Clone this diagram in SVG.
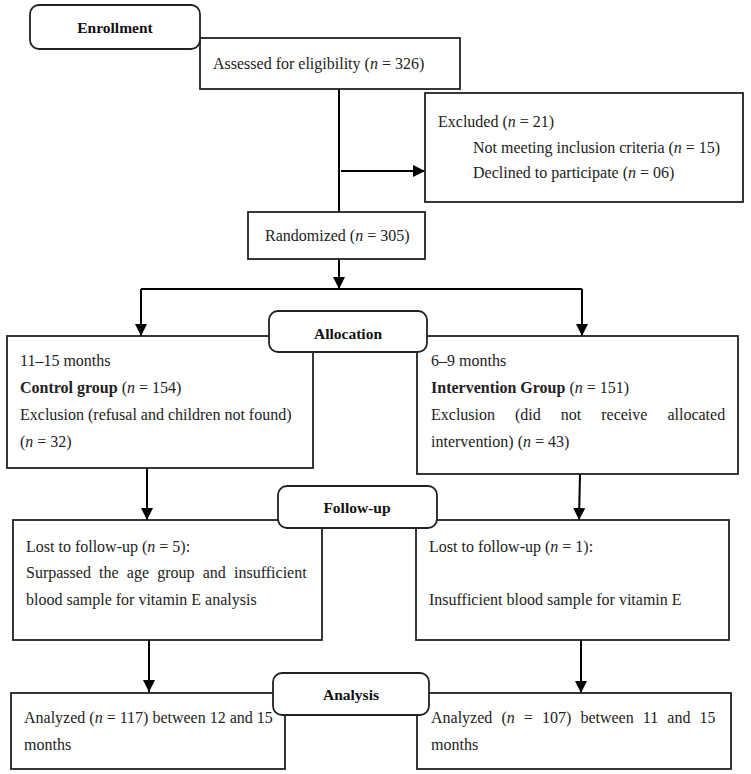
<svg xmlns="http://www.w3.org/2000/svg" width="751" height="774" viewBox="0 0 751 774">
<defs>
<marker id="ah" markerUnits="userSpaceOnUse" markerWidth="12" markerHeight="12" viewBox="0 0 12 12" refX="12" refY="6" orient="auto">
<path d="M0,0 L12,6 L0,12 Z" fill="#000"/>
</marker>
<style>
.box{fill:#fff;stroke:#222;stroke-width:1.8}
.lbl{fill:#fff;stroke:#222;stroke-width:1.8}
.ln{stroke:#000;stroke-width:2;fill:none}
.t{font-family:"Liberation Serif","Times New Roman",serif;font-size:16px;fill:#222}
.b{font-family:"Liberation Serif","Times New Roman",serif;font-size:15.5px;font-weight:bold;fill:#111}
.i{font-style:italic}
.h{font-weight:bold}
</style>
</defs>
<rect width="751" height="774" fill="#fff"/>
<g id="connectors">
<line class="ln" x1="339" y1="89" x2="339" y2="212"/>
<line class="ln" x1="341" y1="171" x2="425" y2="171" marker-end="url(#ah)"/>
<line class="ln" x1="339" y1="259" x2="339" y2="289" marker-end="url(#ah)"/>
<polyline class="ln" points="141,289 582,289"/>
<line class="ln" x1="141" y1="289" x2="141" y2="336" marker-end="url(#ah)"/>
<line class="ln" x1="582" y1="289" x2="582" y2="336" marker-end="url(#ah)"/>
<line class="ln" x1="147" y1="468" x2="147" y2="520" marker-end="url(#ah)"/>
<line class="ln" x1="580" y1="474" x2="579" y2="520" marker-end="url(#ah)"/>
<line class="ln" x1="149" y1="640" x2="149" y2="692" marker-end="url(#ah)"/>
<line class="ln" x1="581" y1="640" x2="581" y2="693" marker-end="url(#ah)"/>
</g>
<g id="assessed">
<rect class="box" x="200" y="38" width="260" height="51"/>
<text class="t" x="213" y="69">Assessed for eligibility (<tspan class="i">n</tspan> = 326)</text>
</g>
<g id="excluded">
<rect class="box" x="425" y="93" width="318" height="109"/>
<text class="t" x="438" y="127">Excluded (<tspan class="i">n</tspan> = 21)</text>
<text class="t" x="473" y="153">Not meeting inclusion criteria (<tspan class="i">n</tspan> = 15)</text>
<text class="t" x="473" y="178">Declined to participate (<tspan class="i">n</tspan> = 06)</text>
</g>
<g id="randomized">
<rect class="box" x="248" y="212" width="177" height="47"/>
<text class="t" x="265" y="241">Randomized (<tspan class="i">n</tspan> = 305)</text>
</g>
<g id="control">
<rect class="box" x="7" y="336" width="306" height="132"/>
<text class="t" x="20" y="366">11–15 months</text>
<text class="t" x="20" y="393"><tspan class="h">Control group</tspan> (<tspan class="i">n</tspan> = 154)</text>
<text class="t" x="20" y="420">Exclusion (refusal and children not found)</text>
<text class="t" x="20" y="447">(<tspan class="i">n</tspan> = 32)</text>
</g>
<g id="intervention">
<rect class="box" x="417" y="336" width="321" height="138"/>
<text class="t" x="431" y="366">6–9 months</text>
<text class="t" x="431" y="393"><tspan class="h">Intervention Group</tspan> (<tspan class="i">n</tspan> = 151)</text>
<text class="t" x="431" y="420" word-spacing="16">Exclusion (did not receive allocated</text>
<text class="t" x="431" y="447">intervention) (<tspan class="i">n</tspan> = 43)</text>
</g>
<g id="lost-left">
<rect class="box" x="13" y="520" width="309" height="120"/>
<text class="t" x="26" y="552">Lost to follow-up (<tspan class="i">n</tspan> = 5):</text>
<text class="t" x="26" y="578" word-spacing="4.2">Surpassed the age group and insufficient</text>
<text class="t" x="26" y="605">blood sample for vitamin E analysis</text>
</g>
<g id="lost-right">
<rect class="box" x="416" y="520" width="313" height="120"/>
<text class="t" x="429" y="552">Lost to follow-up (<tspan class="i">n</tspan> = 1):</text>
<text class="t" x="429" y="605">Insufficient blood sample for vitamin E</text>
</g>
<g id="analyzed-left">
<rect class="box" x="11" y="693" width="274" height="76"/>
<text class="t" x="24" y="723">Analyzed (<tspan class="i">n</tspan> = 117) between 12 and 15</text>
<text class="t" x="24" y="750">months</text>
</g>
<g id="analyzed-right">
<rect class="box" x="417" y="693" width="314" height="76"/>
<text class="t" x="431" y="723" word-spacing="5.1">Analyzed (<tspan class="i">n</tspan> = 107) between 11 and 15</text>
<text class="t" x="431" y="750">months</text>
</g>
<g id="enrollment">
<rect class="lbl" x="30" y="5" width="170" height="44" rx="9"/>
<text class="b" x="115" y="33" text-anchor="middle">Enrollment</text>
</g>
<g id="allocation">
<rect class="lbl" x="269" y="311" width="158" height="41" rx="9"/>
<text class="b" x="348" y="339" text-anchor="middle">Allocation</text>
</g>
<g id="follow-up">
<rect class="lbl" x="278" y="486" width="159" height="42" rx="9"/>
<text class="b" x="357" y="513" text-anchor="middle">Follow-up</text>
</g>
<g id="analysis">
<rect class="lbl" x="273" y="673" width="156" height="42" rx="9"/>
<text class="b" x="351" y="700" text-anchor="middle">Analysis</text>
</g>
</svg>
